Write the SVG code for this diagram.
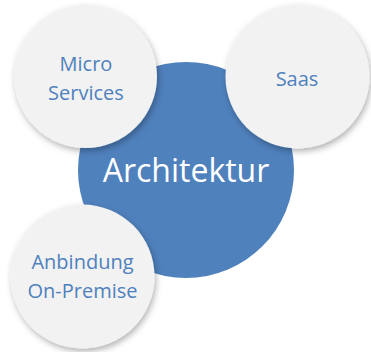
<svg xmlns="http://www.w3.org/2000/svg" width="371" height="352" viewBox="0 0 371 352">
  <defs>
    <filter id="sh" x="-20%" y="-20%" width="150%" height="150%">
      <feDropShadow dx="1.5" dy="3" stdDeviation="3" flood-color="#000" flood-opacity="0.3"/>
    </filter>
  </defs>
  <style>
    .small { fill: #F2F2F2; filter: url(#sh); }
    .big { fill: #4F81BD; }
    .lbl { font-family: "Open Sans", "Liberation Sans", sans-serif; font-size: 20px; fill: #4F81BD; text-anchor: middle; }
    .main { font-family: "Open Sans", "Liberation Sans", sans-serif; font-size: 32px; fill: #FFFFFF; text-anchor: middle; }
  </style>
  <rect width="371" height="352" fill="#FFFFFF"/>
  <g id="connectors"/>
  <g id="architektur">
    <circle class="big" cx="186" cy="170" r="108"/>
    <text class="main" x="186" y="182">Architektur</text>
  </g>
  <g id="micro-services">
    <circle class="small" cx="85.5" cy="76.5" r="71.5"/>
    <text class="lbl" x="86" y="71">Micro</text>
    <text class="lbl" x="86" y="100">Services</text>
  </g>
  <g id="saas">
    <circle class="small" cx="297.5" cy="76.5" r="72"/>
    <text class="lbl" x="297" y="86">Saas</text>
  </g>
  <g id="anbindung">
    <circle class="small" cx="82.5" cy="276.5" r="72"/>
    <text class="lbl" x="82.5" y="269">Anbindung</text>
    <text class="lbl" x="82.5" y="298">On-Premise</text>
  </g>
</svg>
